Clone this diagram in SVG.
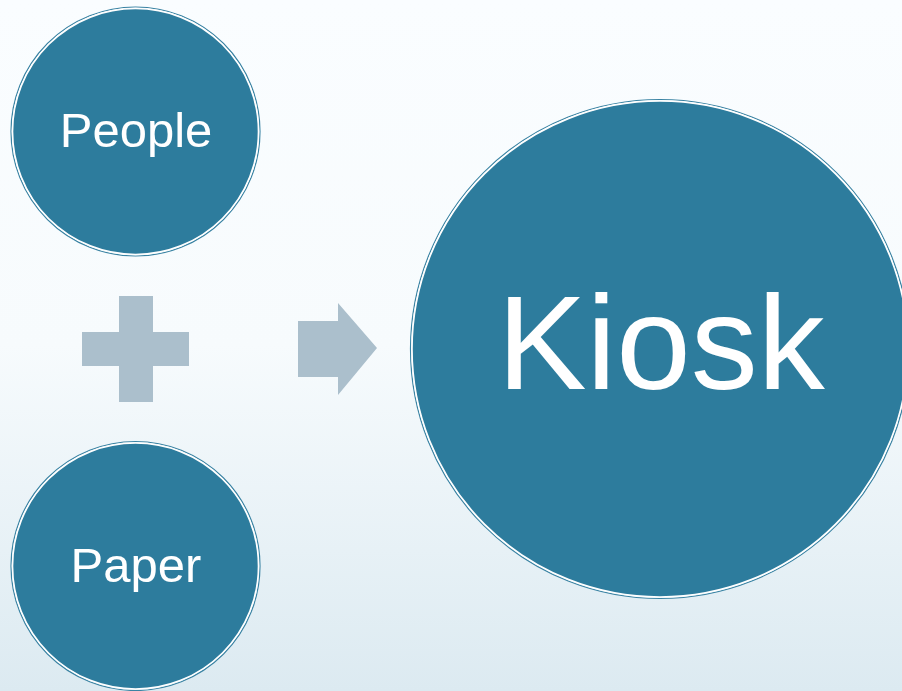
<svg xmlns="http://www.w3.org/2000/svg" width="902" height="691" viewBox="0 0 902 691">
  <defs>
    <linearGradient id="bg" x1="0" y1="0" x2="0" y2="1">
      <stop offset="0" stop-color="#FAFDFF"/>
      <stop offset="0.5" stop-color="#F7FBFD"/>
      <stop offset="1" stop-color="#DCEAF1"/>
    </linearGradient>
    <style>
      .ring { fill: none; stroke: #3A83A3; stroke-width: 1.2; }
      .disc { fill: #2D7C9D; stroke: #FFFFFF; stroke-width: 1.6; }
      .label { fill: #FFFFFF; font-family: "Liberation Sans", Arial, sans-serif; text-anchor: middle; }
      .sym { fill: #ABBFCC; }
    </style>
  </defs>
  <rect x="0" y="0" width="902" height="691" fill="url(#bg)"/>

  <g id="people">
    <circle class="ring" cx="135.5" cy="131.5" r="124.5"/>
    <circle class="disc" cx="135.5" cy="131.5" r="123"/>
    <text class="label" x="136" y="147" font-size="49">People</text>
  </g>

  <g id="paper">
    <circle class="ring" cx="135.5" cy="566" r="124.5"/>
    <circle class="disc" cx="135.5" cy="566" r="123"/>
    <text class="label" x="136" y="582" font-size="49">Paper</text>
  </g>

  <g id="kiosk">
    <circle class="ring" cx="660" cy="349" r="249.5"/>
    <circle class="disc" cx="660" cy="349" r="248"/>
    <text class="label" x="661" y="389" font-size="134">Kiosk</text>
  </g>

  <g id="connectors">
    <path class="sym" d="M119 296 H153 V332 H189 V366 H153 V402 H119 V366 H82 V332 H119 Z"/>
    <path class="sym" d="M298 321 H338 V303 L377 348 L338 395 V377 H298 Z"/>
  </g>
</svg>
